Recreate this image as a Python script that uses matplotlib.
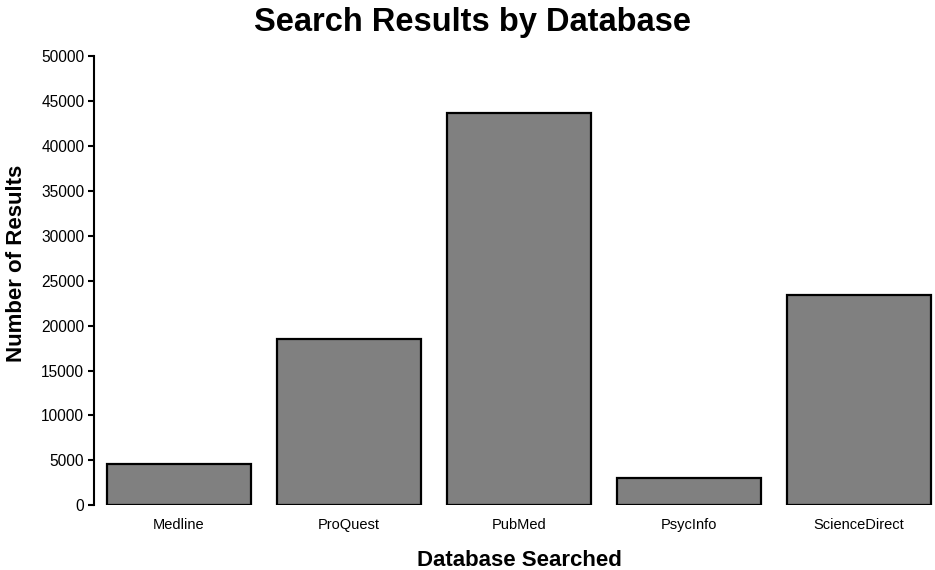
import matplotlib
matplotlib.use('Agg')
import matplotlib.pyplot as plt
import numpy as np

# Data
databases = ['Medline', 'ProQuest', 'PubMed', 'PsycInfo', 'ScienceDirect']
results = [4550, 18500, 43700, 3000, 23400]
y_ticks = list(range(0, 50001, 5000))

plt.rcParams['font.family'] = ['Liberation Sans', 'DejaVu Sans']

fig = plt.figure(figsize=(9.35, 5.7), dpi=100)
ax = fig.add_axes([94 / 935, 1 - 505.3 / 570, 850 / 935, 449.3 / 570])

x = np.arange(len(databases))
ax.bar(x, results, width=0.847, color='#808080', edgecolor='black', linewidth=1.6)

ax.set_xlim(-0.5, 4.5)
ax.set_ylim(0, 50000)
ax.set_yticks(y_ticks)
ax.set_yticklabels([str(t) for t in y_ticks], fontsize=11.2)
ax.set_xticks(x)
ax.set_xticklabels(databases, fontsize=10.5)

for side in ['top', 'right', 'bottom']:
    ax.spines[side].set_visible(False)
ax.spines['left'].set_linewidth(1.5)
ax.tick_params(axis='y', length=4, width=1.5, pad=3)
ax.tick_params(axis='x', length=0, pad=9)

# y label sits a little above the axis centre in the reference
ax.set_ylabel('Number of Results', fontsize=16, fontweight='bold', va='center')
ax.yaxis.set_label_coords((16 - 94) / 850, (505.3 - 263) / 449.3)
ax.set_xlabel('Database Searched', fontsize=16, fontweight='bold', labelpad=13)
fig.text(473 / 935, 1 - 22 / 570, 'Search Results by Database', fontsize=23.5,
         fontweight='bold', ha='center', va='center')

fig.savefig('out.png', dpi=100)
plt.close(fig)
